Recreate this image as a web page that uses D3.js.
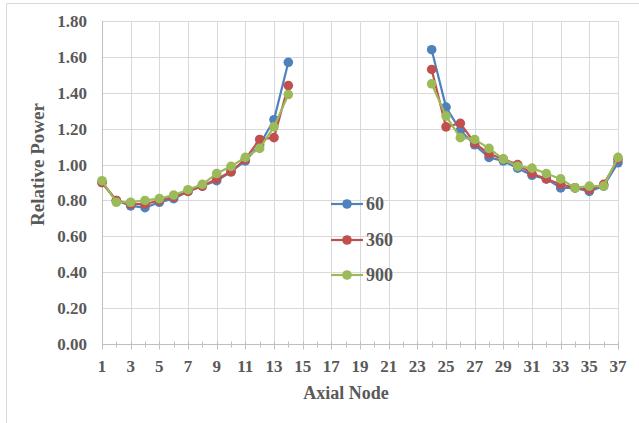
<!DOCTYPE html>
<html>
<head>
<meta charset="utf-8">
<script src="https://cdn.jsdelivr.net/npm/d3@7"></script>
<style>
  html, body { margin: 0; padding: 0; background: #fff; }
  text { font-family: "Liberation Serif", "Times New Roman", serif; font-weight: bold; fill: #595959; }
</style>
</head>
<body>
<div id="chart"></div>
<script>
// Chart data
const nodes = [1, 2, 3, 4, 5, 6, 7, 8, 9, 10, 11, 12, 13, 14,
               24, 25, 26, 27, 28, 29, 30, 31, 32, 33, 34, 35, 36, 37];
const xTickLabels = [1, 3, 5, 7, 9, 11, 13, 15, 17, 19, 21, 23, 25, 27, 29, 31, 33, 35, 37];
const xMinorTicks = [2, 4, 6, 8, 10, 12, 14, 16, 18, 20, 22, 24, 26, 28, 30, 32, 34, 36];
const yTickLabels = [0, 0.2, 0.4, 0.6, 0.8, 1.0, 1.2, 1.4, 1.6, 1.8];
const seriesNames = ["60", "360", "900"];
const seriesColors = ["#4F81BD", "#C0504D", "#9BBB59"];

const power60 = [0.90, 0.80, 0.77, 0.76, 0.79, 0.81, 0.85, 0.88, 0.91, 0.96, 1.02, 1.11, 1.25, 1.57,
                 1.64, 1.32, 1.19, 1.11, 1.04, 1.02, 0.98, 0.94, 0.92, 0.87, 0.87, 0.85, 0.88, 1.01];
const power360 = [0.90, 0.80, 0.78, 0.78, 0.80, 0.82, 0.85, 0.88, 0.92, 0.96, 1.03, 1.14, 1.15, 1.44,
                  1.53, 1.21, 1.23, 1.12, 1.06, 1.03, 1.00, 0.95, 0.92, 0.89, 0.87, 0.86, 0.89, 1.03];
const power900 = [0.91, 0.79, 0.79, 0.80, 0.81, 0.83, 0.86, 0.89, 0.95, 0.99, 1.04, 1.09, 1.21, 1.39,
                  1.45, 1.27, 1.15, 1.14, 1.09, 1.03, 0.99, 0.98, 0.95, 0.92, 0.87, 0.88, 0.88, 1.04];
const seriesValues = [power60, power360, power900];

const WIDTH = 639;
const HEIGHT = 423;
const MARKER_R = 4.8;

const svg = d3.select("#chart").append("svg")
  .attr("width", WIDTH)
  .attr("height", HEIGHT);

// outer frame (only left and top edges visible)
svg.append("path")
  .attr("d", "M6.5,423 V3.5 H639")
  .attr("fill", "none")
  .attr("stroke", "#d9d9d9");

const x = d3.scaleLinear([1, 37], [102, 618]);
const y = d3.scaleLinear([0, 1.8], [344, 21]);

// horizontal gridlines
svg.append("g")
  .selectAll("line")
  .data(yTickLabels.slice(1))
  .enter()
  .append("line")
  .attr("x1", x(1))
  .attr("x2", x(37))
  .attr("y1", (d) => Math.round(y(d)) + 0.5)
  .attr("y2", (d) => Math.round(y(d)) + 0.5)
  .attr("stroke", "#d9d9d9");

// vertical gridlines at odd nodes
svg.append("g")
  .selectAll("line")
  .data(xTickLabels.slice(1))
  .enter()
  .append("line")
  .attr("x1", (d) => Math.round(x(d)) + 0.5)
  .attr("x2", (d) => Math.round(x(d)) + 0.5)
  .attr("y1", y(1.8))
  .attr("y2", y(0) + 4)
  .attr("stroke", "#d9d9d9");

// x axis
const xAxis = svg.append("g")
  .attr("transform", `translate(0,${Math.round(y(0)) + 0.5})`);

xAxis.append("line")
  .attr("x1", x(1))
  .attr("x2", x(37))
  .attr("stroke", "#bfbfbf");

xAxis.selectAll(".minor")
  .data(xMinorTicks)
  .enter()
  .append("line")
  .attr("class", "minor")
  .attr("x1", (d) => Math.round(x(d)) + 0.5)
  .attr("x2", (d) => Math.round(x(d)) + 0.5)
  .attr("y1", -3)
  .attr("y2", 3)
  .attr("stroke", "#bfbfbf");

xAxis.selectAll(".major")
  .data(xTickLabels)
  .enter()
  .append("line")
  .attr("class", "major")
  .attr("x1", (d) => Math.round(x(d)) + 0.5)
  .attr("x2", (d) => Math.round(x(d)) + 0.5)
  .attr("y1", -3)
  .attr("y2", 5)
  .attr("stroke", "#bfbfbf");

xAxis.selectAll("text")
  .data(xTickLabels)
  .enter()
  .append("text")
  .attr("x", (d) => x(d))
  .attr("y", 27)
  .attr("text-anchor", "middle")
  .style("font-size", "17px")
  .text((d) => d);

// y axis
const yAxis = svg.append("g");

yAxis.append("line")
  .attr("x1", Math.round(x(1)) + 0.5)
  .attr("x2", Math.round(x(1)) + 0.5)
  .attr("y1", y(1.8))
  .attr("y2", y(0) + 4)
  .attr("stroke", "#bfbfbf");

yAxis.selectAll("text")
  .data(yTickLabels)
  .enter()
  .append("text")
  .attr("x", 87)
  .attr("y", (d) => y(d))
  .attr("dy", "0.35em")
  .attr("text-anchor", "end")
  .style("font-size", "17px")
  .text((d) => d3.format(".2f")(d));

// axis titles
svg.append("text")
  .attr("x", 346)
  .attr("y", 399)
  .attr("text-anchor", "middle")
  .style("font-size", "18px")
  .text("Axial Node");

svg.append("text")
  .attr("transform", `translate(37,${y(1.0)}) rotate(-90)`)
  .attr("dy", "0.35em")
  .attr("text-anchor", "middle")
  .style("font-size", "19px")
  .text("Relative Power");

// series: two separate segments (gap between node 14 and 24)
const linePath = d3.line()
  .x((d) => x(d.node))
  .y((d) => y(d.value));

seriesValues.forEach((values, s) => {
  const pts = nodes.map((n, i) => ({ node: n, value: values[i] }));
  const g = svg.append("g");

  [pts.slice(0, 14), pts.slice(14)].forEach((seg) => {
    g.append("path")
      .datum(seg)
      .attr("fill", "none")
      .attr("stroke", seriesColors[s])
      .attr("stroke-width", 2.2)
      .attr("stroke-linejoin", "round")
      .attr("d", linePath);
  });

  g.selectAll("circle")
    .data(pts)
    .enter()
    .append("circle")
    .attr("cx", (d) => x(d.node))
    .attr("cy", (d) => y(d.value))
    .attr("r", MARKER_R)
    .attr("fill", seriesColors[s]);
});

// legend
const legendY = [204, 240, 275];
const legend = svg.append("g");

seriesNames.forEach((name, s) => {
  legend.append("line")
    .attr("x1", 331)
    .attr("x2", 363)
    .attr("y1", legendY[s])
    .attr("y2", legendY[s])
    .attr("stroke", seriesColors[s])
    .attr("stroke-width", 2.2);
  legend.append("circle")
    .attr("cx", 347)
    .attr("cy", legendY[s])
    .attr("r", MARKER_R)
    .attr("fill", seriesColors[s]);
  legend.append("text")
    .attr("x", 366)
    .attr("y", legendY[s])
    .attr("dy", "0.35em")
    .style("font-size", "18px")
    .text(name);
});
</script>
</body>
</html>
